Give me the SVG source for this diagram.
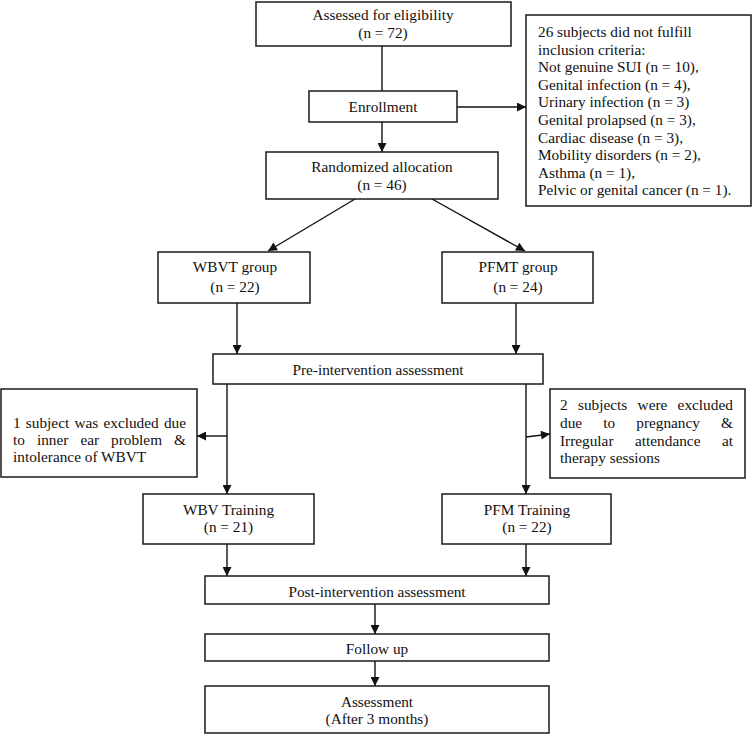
<svg xmlns="http://www.w3.org/2000/svg" width="753" height="734" viewBox="0 0 753 734">
<style>
.box{fill:#fff;stroke:#1a1a1a;stroke-width:1.5}
.t{font-family:"Liberation Serif","Times New Roman",serif;font-size:15.3px;fill:#111}
.c{text-anchor:middle}
.ln{stroke:#111;stroke-width:1.4;fill:none}
.ar{marker-end:url(#ah)}
</style>
<defs>
<marker id="ah" markerUnits="userSpaceOnUse" viewBox="0 0 10 10" markerWidth="10" markerHeight="9" refX="10" refY="5" orient="auto">
<path d="M0,0 L10,5 L0,10 z" fill="#111"/>
</marker>
</defs>
<rect width="753" height="734" fill="#fff"/>
<g id="connectors">
<line class="ln" x1="382" y1="46" x2="382" y2="91"/>
<line class="ln ar" x1="457" y1="107" x2="526" y2="107"/>
<line class="ln ar" x1="382" y1="122" x2="382" y2="152"/>
<line class="ln ar" x1="355" y1="199" x2="268" y2="251"/>
<line class="ln ar" x1="432" y1="199" x2="525" y2="251"/>
<line class="ln ar" x1="237" y1="303" x2="237" y2="354"/>
<line class="ln ar" x1="516" y1="303" x2="516" y2="354"/>
<line class="ln ar" x1="227" y1="384" x2="227" y2="494"/>
<line class="ln ar" x1="227" y1="436" x2="197" y2="436"/>
<line class="ln ar" x1="526" y1="384" x2="526" y2="494"/>
<line class="ln ar" x1="526" y1="437" x2="550" y2="434"/>
<line class="ln ar" x1="227" y1="544" x2="227" y2="576"/>
<line class="ln ar" x1="526" y1="544" x2="526" y2="576"/>
<line class="ln ar" x1="375" y1="604" x2="375" y2="634"/>
<line class="ln ar" x1="375" y1="661" x2="375" y2="686"/>
</g>
<g id="assessed">
<rect class="box" x="256" y="2" width="255" height="44"/>
<text class="t c" x="383" y="20">Assessed for eligibility</text>
<text class="t c" x="383" y="38">(n = 72)</text>
</g>
<g id="enrollment">
<rect class="box" x="309" y="91" width="148" height="31"/>
<text class="t c" x="383" y="112">Enrollment</text>
</g>
<g id="excluded-criteria">
<rect class="box" x="526" y="15" width="225" height="191"/>
<text class="t" x="538" y="37">26 subjects did not fulfill</text>
<text class="t" x="538" y="54.6">inclusion criteria:</text>
<text class="t" x="538" y="72.2">Not genuine SUI (n = 10),</text>
<text class="t" x="538" y="89.8">Genital infection (n = 4),</text>
<text class="t" x="538" y="107.4">Urinary infection (n = 3)</text>
<text class="t" x="538" y="125">Genital prolapsed (n = 3),</text>
<text class="t" x="538" y="142.6">Cardiac disease (n = 3),</text>
<text class="t" x="538" y="160.2">Mobility disorders (n = 2),</text>
<text class="t" x="538" y="177.8">Asthma (n = 1),</text>
<text class="t" x="538" y="195.4">Pelvic or genital cancer (n = 1).</text>
</g>
<g id="randomized">
<rect class="box" x="266" y="152" width="232" height="47"/>
<text class="t c" x="382" y="172">Randomized allocation</text>
<text class="t c" x="382" y="190">(n = 46)</text>
</g>
<g id="wbvt-group">
<rect class="box" x="158" y="252" width="152" height="51"/>
<text class="t c" x="235" y="272">WBVT group</text>
<text class="t c" x="235" y="292">(n = 22)</text>
</g>
<g id="pfmt-group">
<rect class="box" x="442" y="252" width="151" height="51"/>
<text class="t c" x="518" y="272">PFMT group</text>
<text class="t c" x="518" y="292">(n = 24)</text>
</g>
<g id="pre-intervention">
<rect class="box" x="213" y="354" width="330" height="30"/>
<text class="t c" x="378" y="375">Pre-intervention assessment</text>
</g>
<g id="excluded-wbvt">
<rect class="box" x="1" y="389" width="196" height="88"/>
<text class="t" x="13" y="428" style="word-spacing:1.4px">1 subject was excluded due</text>
<text class="t" x="13" y="445" style="word-spacing:8.2px">to inner ear problem &amp;</text>
<text class="t" x="13" y="462">intolerance of WBVT</text>
</g>
<g id="excluded-pfmt">
<rect class="box" x="550" y="389" width="195" height="89"/>
<text class="t" x="560" y="410" style="word-spacing:6.5px">2 subjects were excluded</text>
<text class="t" x="560" y="428" style="word-spacing:17.3px">due to pregnancy &amp;</text>
<text class="t" x="560" y="446" style="word-spacing:17.7px">Irregular attendance at</text>
<text class="t" x="560" y="463">therapy sessions</text>
</g>
<g id="wbv-training">
<rect class="box" x="143" y="494" width="171" height="50"/>
<text class="t c" x="228.5" y="515">WBV Training</text>
<text class="t c" x="228.5" y="532">(n = 21)</text>
</g>
<g id="pfm-training">
<rect class="box" x="442" y="494" width="169" height="50"/>
<text class="t c" x="527" y="515">PFM Training</text>
<text class="t c" x="527" y="532">(n = 22)</text>
</g>
<g id="post-intervention">
<rect class="box" x="205" y="576" width="344" height="28"/>
<text class="t c" x="377" y="597">Post-intervention assessment</text>
</g>
<g id="follow-up">
<rect class="box" x="205" y="634" width="344" height="27"/>
<text class="t c" x="377" y="654">Follow up</text>
</g>
<g id="assessment">
<rect class="box" x="205" y="686" width="344" height="47"/>
<text class="t c" x="377" y="707">Assessment</text>
<text class="t c" x="377" y="724">(After 3 months)</text>
</g>
</svg>
